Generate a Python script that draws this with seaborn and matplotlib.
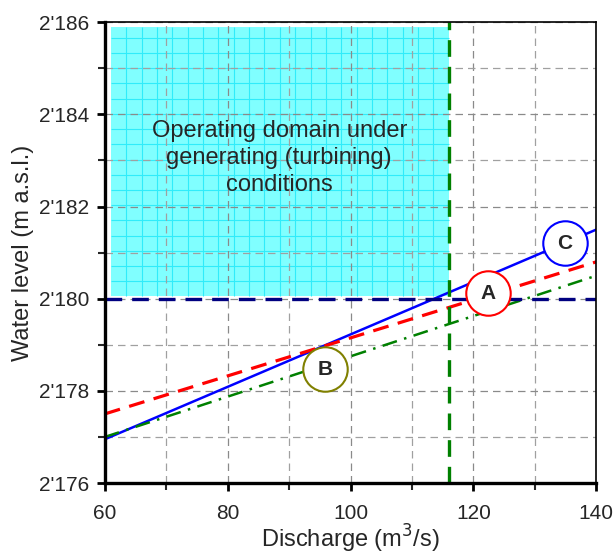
import numpy as np
import pandas as pd
import matplotlib
matplotlib.use("Agg")
import matplotlib.pyplot as plt
import seaborn as sns
from matplotlib.ticker import FuncFormatter, MultipleLocator

# data
discharge = [60, 140]
level_c = [2176.95, 2181.5]   # blue solid
level_a = [2177.5, 2180.8]    # red dashed
level_b = [2177.0, 2180.5]    # green dash-dot
q_limit = 116.0
h_limit = 2180.0
domain_x = [61, 116]
domain_y = [2180.05, 2185.9]
label_names = ["C", "A", "B"]
label_x = [134.9, 122.4, 95.8]
label_y = [2181.2, 2180.12, 2178.47]
label_colors = ["#0000ff", "#ff0000", "#808000"]

sns.set_style("white")
plt.rcParams["font.family"] = ["Liberation Sans", "DejaVu Sans"]

fig = plt.figure(figsize=(6.16, 5.54), dpi=100)
ax = fig.add_axes([0.170, 0.128, 0.798, 0.832])

# operating domain (cyan block with its own fine grid)
ax.fill_between(domain_x, domain_y[0], domain_y[1], color="#80ffff", zorder=1, lw=0)
for gx in np.arange(domain_x[0] + 2.5, domain_x[1], 2.5):
    ax.vlines(gx, domain_y[0], domain_y[1], color="#30ecfa", lw=0.8, zorder=1.1)
for gy in np.arange(domain_y[0] + 0.33, domain_y[1], 0.33):
    ax.hlines(gy, domain_x[0], domain_x[1], color="#30ecfa", lw=0.8, zorder=1.1)

# grid
ax.xaxis.set_major_locator(MultipleLocator(20))
ax.xaxis.set_minor_locator(MultipleLocator(10))
ax.yaxis.set_major_locator(MultipleLocator(2))
ax.yaxis.set_minor_locator(MultipleLocator(1))
ax.grid(which="major", color="#8a8a8a", ls=(0, (6, 4)), lw=0.9, zorder=1.2)
ax.grid(which="minor", color="#a0a0a0", ls=(0, (6, 4)), lw=0.9, zorder=1.2)
ax.set_axisbelow(False)

df = pd.DataFrame({
    "Q": discharge * 3,
    "H": level_c + level_a + level_b,
    "case": ["C"] * 2 + ["A"] * 2 + ["B"] * 2,
})
sns.lineplot(data=df[df.case == "C"], x="Q", y="H", color="#0000ff", lw=1.8, ax=ax, zorder=3)
sns.lineplot(data=df[df.case == "A"], x="Q", y="H", color="#ff0000", lw=2.3, ax=ax,
             zorder=3, linestyle=(0, (5, 3)))
sns.lineplot(data=df[df.case == "B"], x="Q", y="H", color="#008000", lw=1.8, ax=ax,
             zorder=3, linestyle=(0, (6, 3, 1, 3)))

ax.axvline(q_limit, color="#008000", lw=2.4, ls=(0, (5, 3)), zorder=4)
ax.axhline(h_limit, color="#000080", lw=2.4, ls=(0, (5, 3)), zorder=4)

for name, lx, ly, c in zip(label_names, label_x, label_y, label_colors):
    ax.plot(lx, ly, "o", ms=32, mfc="white", mec=c, mew=1.5, zorder=5)
    ax.text(lx, ly, name, ha="center", va="center", fontsize=15, fontweight="bold", zorder=6)

ax.text(88.4, 2183.05, "Operating domain under\ngenerating (turbining)\nconditions",
        ha="center", va="center", fontsize=17, linespacing=1.3, zorder=6)

ax.set_xlim(60, 140)
ax.set_ylim(2176, 2186)
ax.yaxis.set_major_formatter(FuncFormatter(lambda v, p: f"{int(v) // 1000}'{int(v) % 1000:03d}"))
ax.set_xlabel("Discharge (m$^3$/s)", fontsize=17, labelpad=0)
ax.set_ylabel("Water level (m a.s.l.)", fontsize=17, labelpad=4)

ax.tick_params(which="major", direction="out", length=6, width=2, labelsize=15, color="black",
               bottom=True, left=True, pad=5)
ax.tick_params(axis="x", which="major", pad=9)
ax.tick_params(which="minor", direction="out", length=5, width=1.5, bottom=True, left=True)
for side in ["left", "bottom"]:
    ax.spines[side].set_linewidth(2.4)
for side in ["top", "right"]:
    ax.spines[side].set_linewidth(1.2)
for s in ax.spines.values():
    s.set_color("black")
    s.set_zorder(7)

fig.savefig("out.png", dpi=100)
